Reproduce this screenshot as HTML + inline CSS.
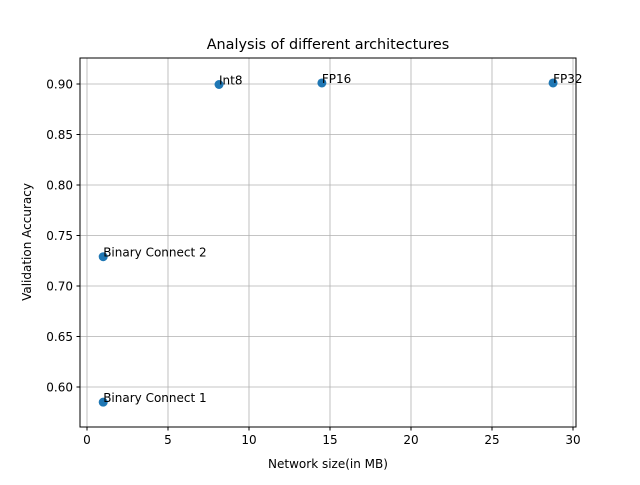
<!DOCTYPE html>
<html><head><meta charset="utf-8"><style>
body{margin:0;background:#fff;}
svg text{font-family:"DejaVu Sans","Liberation Sans",sans-serif;}
</style></head><body>
<svg width="640" height="480">
<g id="grid"></g>
<rect x="80" y="58" width="496" height="369" fill="none" stroke="#000" stroke-width="1"/>
<g id="ticks"></g>
<g id="pts"></g>
<text x="328" y="49" font-size="14.4" text-anchor="middle">Analysis of different architectures</text>
<text x="328" y="468" font-size="12" text-anchor="middle">Network size(in MB)</text>
<text x="31" y="242" font-size="12" text-anchor="middle" transform="rotate(-90 31 242)">Validation Accuracy</text>
</svg>
<script>
const labels=["Binary Connect 1","Binary Connect 2","Int8","FP16","FP32"];
const sizes=[1.0,1.0,8.15,14.5,28.77];
const accs=[0.585,0.729,0.8995,0.901,0.901];
const xTicks=[0,5,10,15,20,25,30];
const yTicks=[0.60,0.65,0.70,0.75,0.80,0.85,0.90];
const NS="http://www.w3.org/2000/svg";
function xs(v){return 87+v*16.2;}
function ys(v){return 84+(0.90-v)*1010;}
function mk(t,a,p){const e=document.createElementNS(NS,t);for(const k in a)e.setAttribute(k,a[k]);p.appendChild(e);return e;}
const g=document.getElementById('grid'),tk=document.getElementById('ticks'),pg=document.getElementById('pts');
xTicks.forEach(v=>{const x=xs(v);
const l=mk('line',{x1:x,x2:x,y1:58,y2:427,stroke:'#b0b0b0','stroke-width':0.8},g);


mk('line',{x1:x,x2:x,y1:427,y2:430.5,stroke:'#000'},tk);
const t=mk('text',{x:x,y:444,'font-size':12,'text-anchor':'middle'},tk);t.textContent=v;

});
yTicks.forEach(v=>{const y=ys(v);
const l=mk('line',{x1:80,x2:576,y1:y,y2:y,stroke:'#b0b0b0','stroke-width':0.8},g);


mk('line',{x1:76.5,x2:80,y1:y,y2:y,stroke:'#000'},tk);
const t=mk('text',{x:73,y:y+4.5,'font-size':12,'text-anchor':'end'},tk);t.textContent=v.toFixed(2);

});
labels.forEach((lb,i)=>{const x=xs(sizes[i]),y=ys(accs[i]);
const c=mk('circle',{cx:x,cy:y,r:4.5,fill:'#1f77b4'},pg);


const t=mk('text',{x:x,y:y,'font-size':12},pg);t.textContent=lb;

});
</script>
</body></html>
